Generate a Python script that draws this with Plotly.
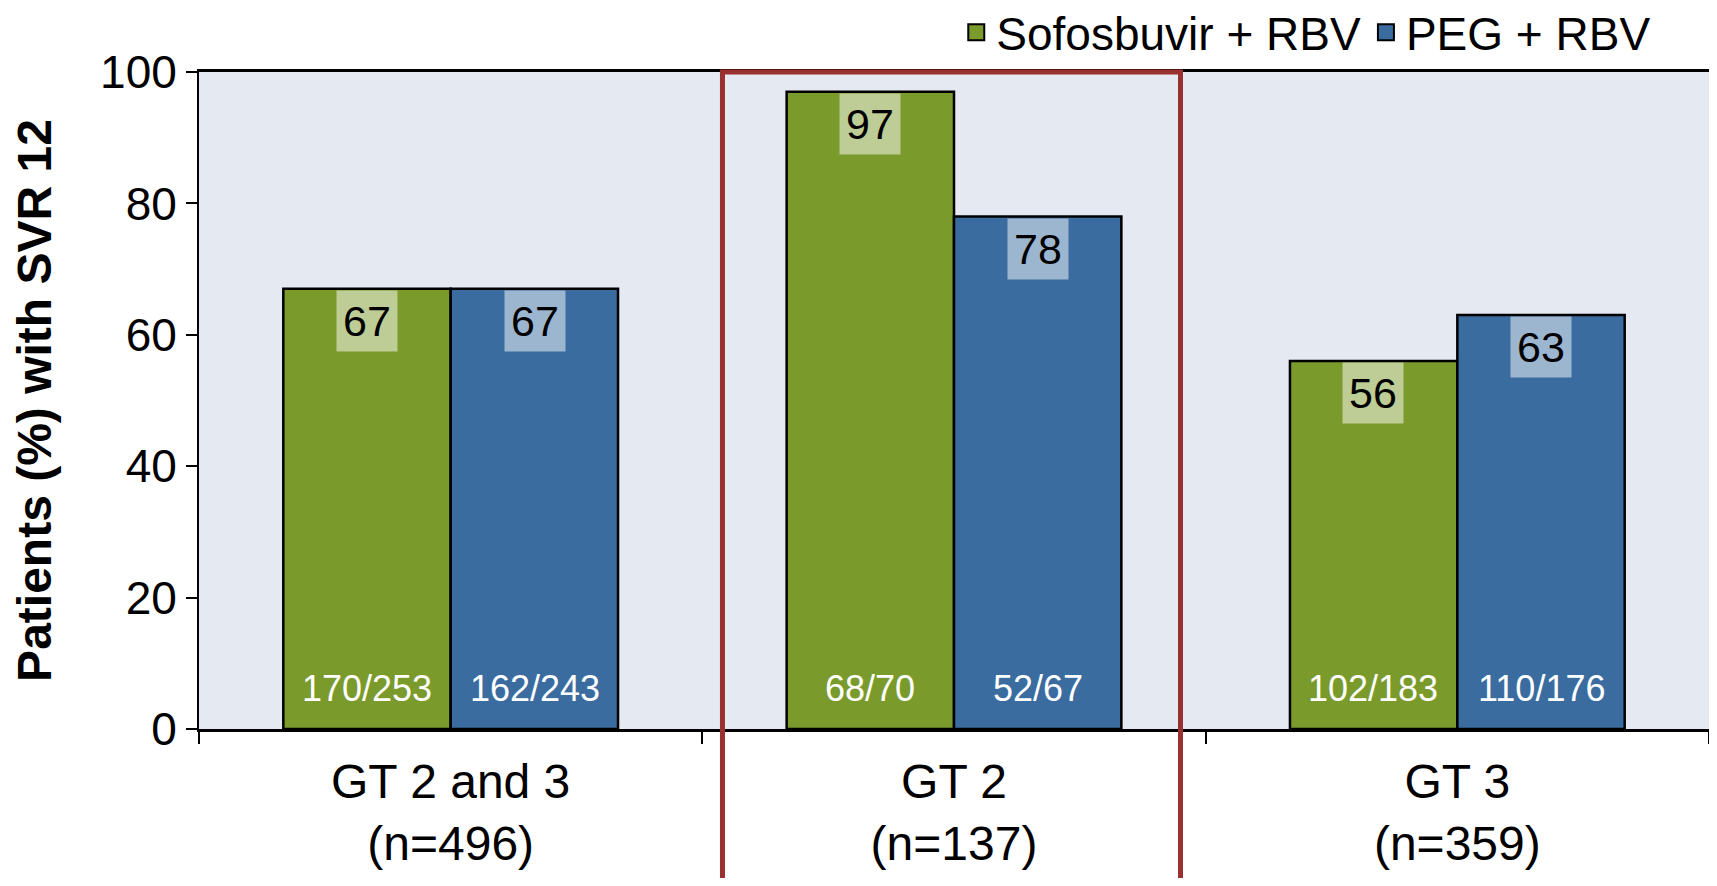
import plotly.graph_objects as go

# data
groups = ["GT 2 and 3<br>(n=496)", "GT 2<br>(n=137)", "GT 3<br>(n=359)"]
sofos_pct = [67, 97, 56]
peg_pct = [67, 78, 63]
sofos_frac = ["170/253", "68/70", "102/183"]
peg_frac = ["162/243", "52/67", "110/176"]

green = "rgb(122,154,43)"
blue = "rgb(58,108,160)"
font_family = "Liberation Sans, Arial, sans-serif"

fig = go.Figure()

fig.add_trace(go.Bar(
    x=groups, y=sofos_pct, name="Sofosbuvir + RBV", showlegend=False,
    marker=dict(color=green, line=dict(color="black", width=2.5)),
))
fig.add_trace(go.Bar(
    x=groups, y=peg_pct, name="PEG + RBV", showlegend=False,
    marker=dict(color=blue, line=dict(color="black", width=2.5)),
))

# legend entries with bigger square swatches
for name, col in (("Sofosbuvir + RBV", green), ("PEG + RBV", blue)):
    fig.add_trace(go.Scatter(
        x=[None], y=[None], mode="markers", name=name,
        marker=dict(symbol="square", size=24, color=col, line=dict(color="black", width=2)),
    ))

# value boxes near the top of each bar, fractions near the base
half = 84  # half a bar width in px
for i, g in enumerate(groups):
    for shift, val, frac in ((-half, sofos_pct[i], sofos_frac[i]), (half, peg_pct[i], peg_frac[i])):
        fig.add_annotation(
            x=g, y=val, xshift=shift, yshift=-1, yanchor="top",
            text=str(val), showarrow=False,
            font=dict(size=43, color="black", family=font_family),
            bgcolor="rgba(255,255,255,0.5)", borderpad=6,
        )
        fig.add_annotation(
            x=g, y=0, xshift=shift, yshift=18, yanchor="bottom",
            text=frac, showarrow=False,
            font=dict(size=36, color="white", family=font_family),
        )

# red frame around the GT 2 group
fig.add_shape(
    type="rect", xref="x", yref="paper",
    x0=0.54, x1=1.45, y0=-0.3, y1=1.0,
    line=dict(color="rgb(155,48,48)", width=5),
    fillcolor="rgba(0,0,0,0)", layer="above",
)

# the page body adds an 8px margin, so the figure is a little smaller than the window
fig.update_layout(
    width=1701, height=870,
    margin=dict(l=191, r=0, t=64, b=149),
    barmode="group", bargap=0.335, bargroupgap=0,
    plot_bgcolor="rgb(228,233,242)", paper_bgcolor="white",
    font=dict(family=font_family, color="black"),
    legend=dict(
        orientation="h", xref="container", yref="container",
        x=0.969, xanchor="right", y=0.972, yanchor="middle",
        font=dict(size=46), bgcolor="rgba(0,0,0,0)", itemwidth=30,
    ),
)

fig.update_xaxes(
    showline=True, linecolor="black", linewidth=3, mirror=True,
    ticks="outside", tickson="boundaries", ticklen=12, tickwidth=2, tickcolor="black",
    tickfont=dict(size=48), ticklabelstandoff=8, showgrid=False, automargin=False,
)
fig.update_yaxes(
    range=[0, 100], dtick=20, showline=True, linecolor="black", linewidth=2, mirror=True,
    ticks="outside", ticklen=11, tickwidth=2, tickcolor="black",
    tickfont=dict(size=46), showgrid=False, zeroline=False, automargin=False,
    title=dict(text="<b>Patients (%) with SVR 12</b>", font=dict(size=48), standoff=34),
)

fig.write_html("out.html")
